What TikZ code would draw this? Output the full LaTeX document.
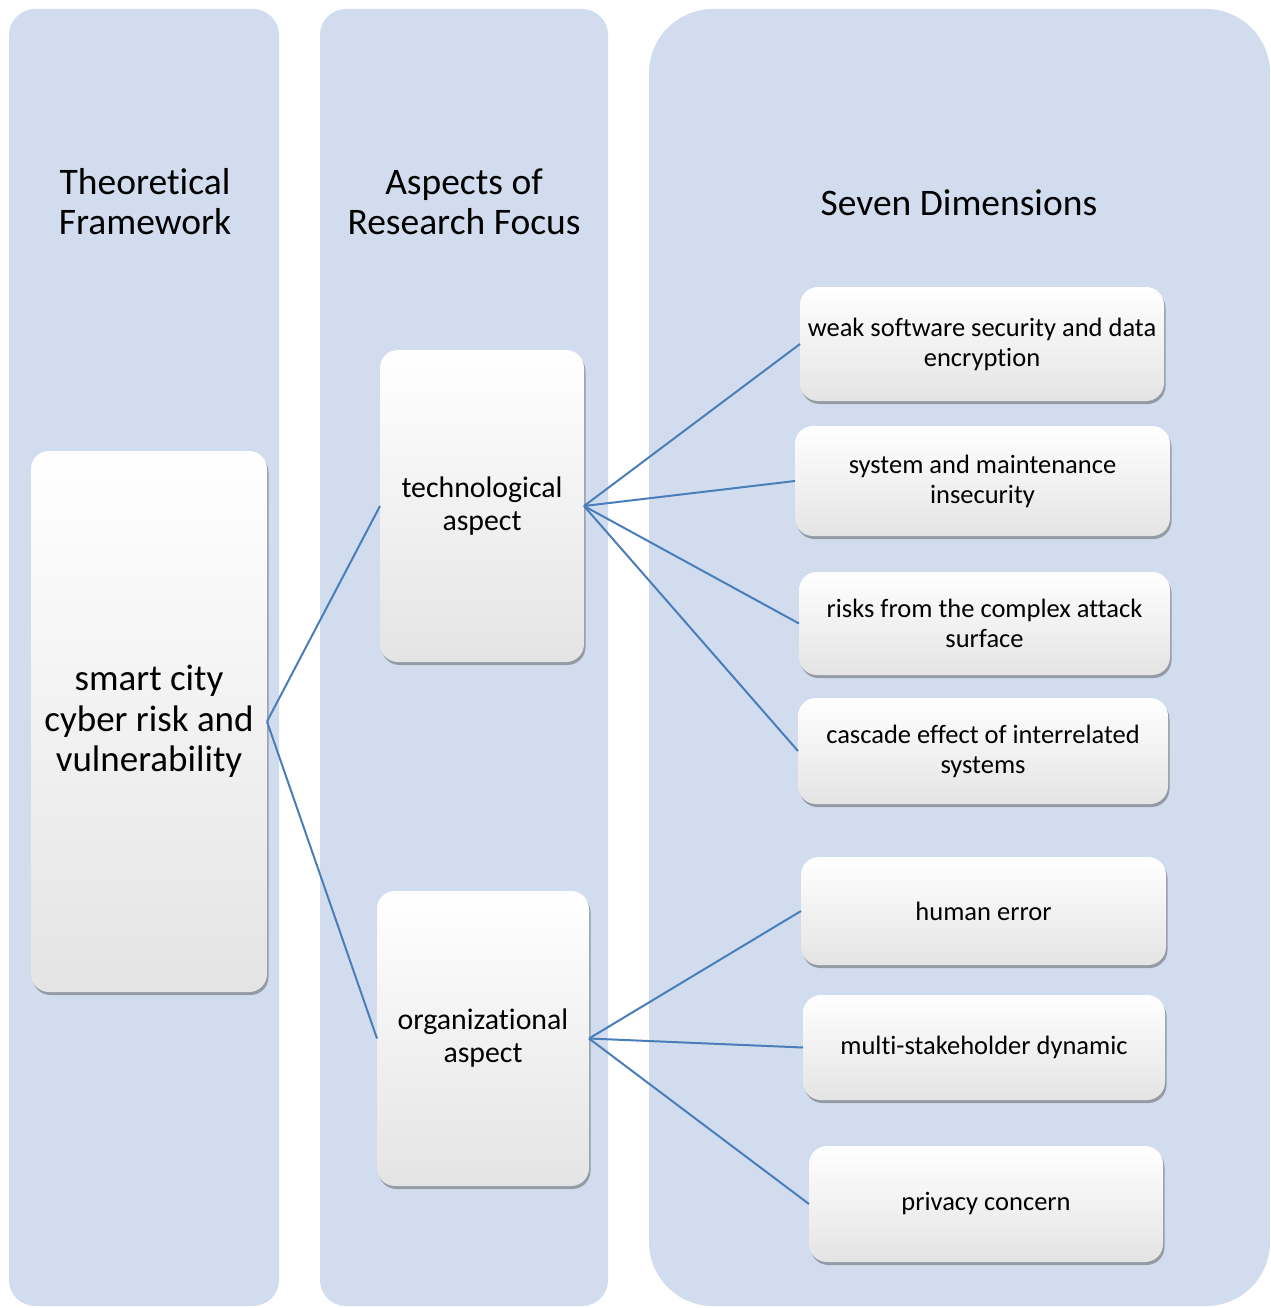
\documentclass[tikz,border=0pt]{standalone}
\usepackage{fontspec}
\setmainfont{Carlito}[RawFeature=-liga]
\usetikzlibrary{shadows}
\definecolor{colbg}{HTML}{D1DCEE}
\definecolor{linkblue}{HTML}{4A7EBB}
\definecolor{boxbottom}{HTML}{E4E4E4}
\begin{document}
\begin{tikzpicture}[x=1pt,y=-1pt,
  column/.style={fill=colbg, inner sep=0pt, outer sep=0pt, draw=none},
  title/.style={align=center, font=\fontsize{37.5}{40}\selectfont, text=black},
  card/.style={rounded corners=18pt, inner sep=0pt, outer sep=0pt, align=center,
    top color=white, middle color=white, bottom color=boxbottom,
    drop shadow={shadow xshift=1.5pt, shadow yshift=-3pt, opacity=0.45, fill=black!70},
    font=\fontsize{26.5}{30}\selectfont},
  aspect/.style={card, font=\fontsize{29.8}{33}\selectfont},
  link/.style={draw=linkblue, line width=2pt}
]
\useasboundingbox (0,0) rectangle (1270,1308);
\fill[white] (0,0) rectangle (1270,1308);
% columns
\node[column, rounded corners=26pt, minimum width=270pt, minimum height=1297pt] (col1) at (144,657.5) {};
\node[column, rounded corners=26pt, minimum width=288pt, minimum height=1297pt] (col2) at (464,657.5) {};
\node[column, rounded corners=64pt, minimum width=621pt, minimum height=1297pt] (col3) at (959.5,657.5) {};
% titles
\node[title] (t1) at (145,202) {Theoretical\\Framework};
\node[title] (t2) at (464,202) {Aspects of\\Research Focus};
\node[title] (t3) at (959,203) {Seven Dimensions};
% main nodes
\node[card, font=\fontsize{37}{40.5}\selectfont, minimum width=236pt, minimum height=541pt] (smart) at (149,721.5) {smart city\\cyber risk and\\vulnerability};
\node[aspect, minimum width=204pt, minimum height=312pt] (tech) at (482,506) {technological\\aspect};
\node[aspect, minimum width=212pt, minimum height=295pt] (org) at (483,1038.5) {organizational\\aspect};
% seven dimensions
\node[card, minimum width=364pt, minimum height=114pt] (d1) at (982,344) {weak software security and data\\encryption};
\node[card, minimum width=375pt, minimum height=110pt] (d2) at (982.5,481) {system and maintenance\\insecurity};
\node[card, minimum width=371pt, minimum height=103pt] (d3) at (984.5,623.5) {risks from the complex attack\\surface};
\node[card, minimum width=370pt, minimum height=106pt] (d4) at (983,751) {cascade effect of interrelated\\systems};
\node[card, minimum width=365pt, minimum height=108pt] (d5) at (983.5,911) {human error};
\node[card, minimum width=362pt, minimum height=105pt] (d6) at (984,1047.5) {multi-stakeholder dynamic};
\node[card, minimum width=354pt, minimum height=116pt] (d7) at (986,1204) {privacy concern};
% connectors
\draw[link] (smart.east) -- (tech.west);
\draw[link] (smart.east) -- (org.west);
\foreach \d in {d1,d2,d3,d4} \draw[link] (tech.east) -- (\d.west);
\foreach \d in {d5,d6,d7} \draw[link] (org.east) -- (\d.west);
\end{tikzpicture}
\end{document}
